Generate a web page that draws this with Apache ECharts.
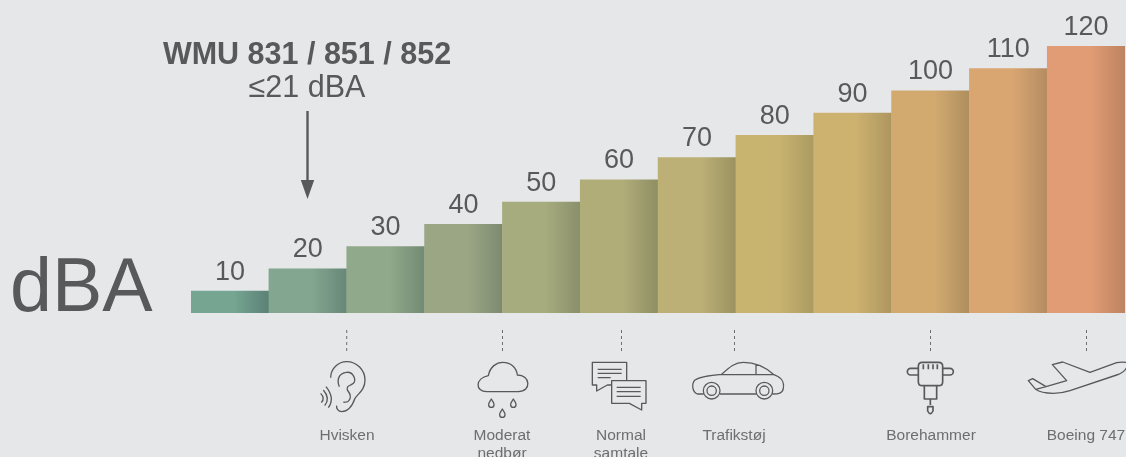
<!DOCTYPE html>
<html>
<head>
<meta charset="utf-8">
<style>
  html, body { margin: 0; padding: 0; background: #e6e7e9; }
  #main { width: 1126px; height: 457px; }
</style>
<script src="https://cdn.jsdelivr.net/npm/echarts@6/dist/echarts.min.js"></script>
</head>
<body>
<div id="main"></div>
<script>
const categories = ['10', '20', '30', '40', '50', '60', '70', '80', '90', '100', '110', '120'];
const values = [10, 20, 30, 40, 50, 60, 70, 80, 90, 100, 110, 120];
const leftColors = ['#76a592', '#82a68f', '#90a98a', '#9ba784', '#a7ac7e', '#b0ad79', '#bcb076', '#c8b36f', '#ccb16f', '#d2aa70', '#d9a672', '#e19c75'];
const rightColors = ['#5b8075', '#688778', '#728a74', '#7d8a70', '#898f6b', '#8f8e64', '#9b9261', '#ab9b62', '#ad965f', '#ae8e5e', '#b48c62', '#bd8360'];
const iconLabels = ['Hvisken', 'Moderat\nnedbør', 'Normal\nsamtale', 'Trafikstøj', 'Borehammer', 'Boeing 747'];

const FONT = '"Liberation Sans", Arial, sans-serif';
const DARK = '#58595b';
const ICON = '#58595b';

// icons are drawn at 3x and scaled down
const iconPaths = {
  ear: 'M62 68C62 40 85 20 110 20C140 20 165 45 165 75C165 105 145 115 135 130C128 150 115 170 95 170C85 170 78 160 80 152' +
    'M88 95C80 75 85 55 110 52C130 50 140 75 130 85C118 95 110 90 112 105C120 115 125 125 118 135C112 145 105 140 100 142' +
    'M32 115Q46 130 34 143M40 105Q62 130 44 152M48 95Q76 130 55 158',
  cloud: 'M560 200C525 200 525 160 565 152C570 125 590 112 608 112C635 112 650 130 652 150C692 150 695 200 655 200Z' +
    'M574 222C570 230 565 234 566 239A8 8 0 0 0 582 239C583 234 578 230 574 222Z' +
    'M640 222C636 230 631 234 632 239A8 8 0 0 0 648 239C649 234 644 230 640 222Z' +
    'M607 252C603 260 598 264 599 269A8 8 0 0 0 615 269C616 264 611 260 607 252Z',
  chat: 'M980 167V112H877V180H890V198L922 180H935M935 167H1038V235H1025V255L988 235H935Z' +
    'M893 133H965M893 145H965M893 158H932M950 187H1022M950 200H1022M950 214H1022',
  car: 'M70 207H52C35 200 35 175 45 165C60 155 100 150 125 148C150 125 165 112 190 112C225 112 255 125 280 148C300 155 314 165 310 190C308 205 295 207 278 207' +
    'M120 207H228M125 149H280M228 116V149' +
    'M120 197A25 25 0 1 1 70 197A25 25 0 1 1 120 197ZM109 197A14 14 0 1 1 81 197A14 14 0 1 1 109 197Z' +
    'M278 197A25 25 0 1 1 228 197A25 25 0 1 1 278 197ZM267 197A14 14 0 1 1 239 197A14 14 0 1 1 267 197Z',
  hammer: 'M727 112H776Q788 112 788 124V170Q788 182 776 182H727Q715 182 715 170V124Q715 112 727 112Z' +
    'M730 118V133M745 118V133M759 118V133M772 118V133' +
    'M715 130H692A10 10 0 0 0 692 150H715M788 130H810A10 10 0 0 1 810 150H788' +
    'M733 182V222H770V182M751 222V240M743 245H759V258Q751 274 743 258Z',
  plane: 'M322 38C312 36 300 36 290 38L210 67L128 36L97 44L140 92L78 110L38 86L25 92L47 118C60 128 80 130 100 130C120 130 135 127 150 122L290 75C305 70 318 60 322 48' +
    'M47 118L78 110'
};

const iconOrigins = [[310, 355], [300, 325], [300, 325], [680, 325], [680, 325], [1020, 350]];
const iconKeys = ['ear', 'cloud', 'chat', 'car', 'hammer', 'plane'];
const iconStroke = [4, 4, 4, 3.8, 5, 4];
const dashCenters = [346.7, 502.5, 621.5, 734.5, 930.5, 1086.5];
const labelCenters = [347, 502, 621, 734, 931, 1086];

// graphic component has no plain path type, so register the icons as shapes
iconKeys.forEach(function (key) {
  echarts.graphic.registerShape('icon_' + key, echarts.graphic.extendPath(iconPaths[key], {}));
});

const chart = echarts.init(document.getElementById('main'), null, { renderer: 'canvas' });

const graphics = [
  { type: 'text', x: 307, y: 56, style: { text: 'WMU 831 / 851 / 852', font: 'bold 30.5px ' + FONT, fill: DARK, textAlign: 'center', textVerticalAlign: 'middle' } },
  { type: 'text', x: 307, y: 89, style: { text: '≤21 dBA', font: '30.5px ' + FONT, fill: DARK, textAlign: 'center', textVerticalAlign: 'middle' } },
  { type: 'text', x: 10, y: 290, style: { text: 'dBA', font: '75.5px ' + FONT, fill: DARK, textAlign: 'left', textVerticalAlign: 'middle' } },
  { type: 'line', shape: { x1: 307.5, y1: 111, x2: 307.5, y2: 182 }, style: { stroke: DARK, lineWidth: 2.4 } },
  { type: 'polygon', shape: { points: [[300.8, 180], [314.2, 180], [307.5, 199]] }, style: { fill: DARK } }
];

iconKeys.forEach(function (key, i) {
  graphics.push({
    type: 'line',
    shape: { x1: dashCenters[i], y1: 330, x2: dashCenters[i], y2: 352 },
    style: { stroke: '#6d6e71', lineWidth: 1, lineDash: [3, 3] }
  });
  graphics.push({
    type: 'icon_' + key,
    x: iconOrigins[i][0],
    y: iconOrigins[i][1],
    scaleX: 1 / 3,
    scaleY: 1 / 3,
    style: { fill: 'none', stroke: ICON, lineWidth: iconStroke[i], lineJoin: 'round' }
  });
  graphics.push({
    type: 'text',
    x: labelCenters[i],
    y: 427,
    style: { text: iconLabels[i], font: '15.5px ' + FONT, fill: '#6d6e71', textAlign: 'center', textVerticalAlign: 'top', lineHeight: 18 }
  });
});

chart.setOption({
  backgroundColor: '#e6e7e9',
  animation: false,
  grid: { left: 191, top: 46, width: 934, height: 267 },
  xAxis: { type: 'category', data: categories, show: false },
  yAxis: { type: 'value', min: 0, max: 120, show: false },
  series: [{
    type: 'bar',
    barWidth: '100.6%',
    data: values.map(function (v, i) {
      return {
        value: v,
        itemStyle: {
          color: new echarts.graphic.LinearGradient(0, 0, 1, 0, [
            { offset: 0, color: leftColors[i] },
            { offset: 0.55, color: leftColors[i] },
            { offset: 1, color: rightColors[i] }
          ])
        }
      };
    }),
    label: {
      show: true,
      position: 'top',
      distance: 5,
      fontFamily: FONT,
      fontSize: 27,
      color: DARK
    }
  }],
  graphic: graphics
});
</script>
</body>
</html>
